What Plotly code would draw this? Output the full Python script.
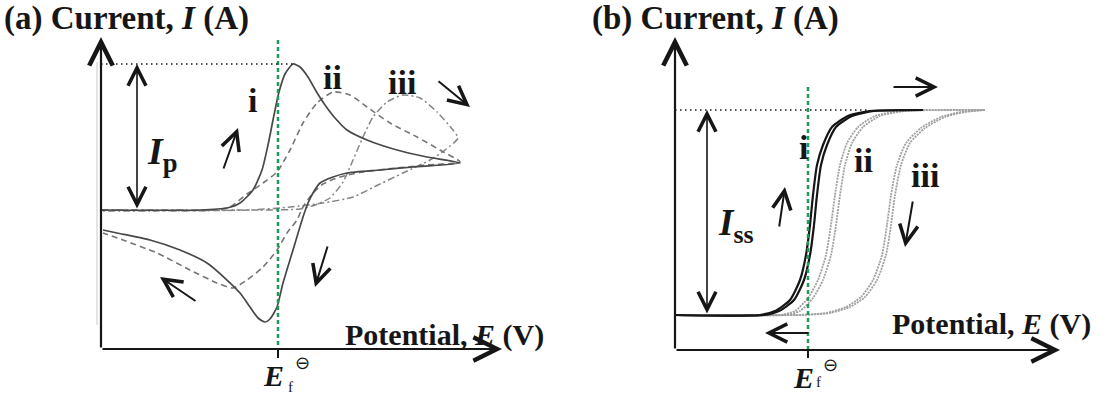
import plotly.graph_objects as go

# ---------------- Panel (a): cyclic voltammograms ----------------
# Potential E - E_f (mV), current I (uA); peak of the reversible wave = I_p
I_P = 14.6

cv_i_E = [-708, -312, -204, -152, -100, -64, -40, -16, 4, 28, 60, 88, 120, 152, 188, 228,
          276, 356, 476, 596, 728,
          540, 408, 276, 220, 168, 140, 120, 100, 60, 20, -4, -32, -52, -80, -112,
          -152, -204, -284, -392, -512, -644, -700]
cv_i_I = [0, 0, 0.2, 0.7, 2.0, 4.0, 6.5, 9.5, 11.8, 13.6, 14.6, 14.3, 13.3, 11.9, 10.5, 9.2,
          8.0, 7.0, 6.0, 5.3, 4.7,
          4.3, 4.0, 3.7, 3.3, 2.7, 1.7, 0.7, -0.7, -4.0, -7.3, -9.7, -10.9, -11.2, -10.8, -9.7,
          -8.3, -7.0, -5.3, -4.0, -3.0, -2.3, -2.0]

cv_ii_E = [-708, -252, -192, -124, -60, -4, 48, 100, 156, 220, 288, 356, 448, 556, 648, 728,
           596, 476, 340, 248, 180, 140, 100, 76, 36, -4, -60, -124, -180, -244, -352, -484,
           -620, -700]
cv_ii_I = [0, 0, 0.3, 1.6, 2.7, 3.8, 6.0, 8.7, 10.7, 11.8, 11.5, 10.3, 8.7, 7.3, 6.0, 4.8,
           4.5, 4.2, 3.8, 3.3, 2.6, 1.7, 0.3, -1.0, -2.3, -4.0, -5.7, -7.0, -7.8, -7.3, -6.0,
           -4.3, -3.0, -2.3]

cv_iii_E = [-708, -72, 88, 148, 208, 260, 300, 340, 380, 436, 500, 568, 636, 700, 720,
            668, 608, 500, 408, 300, 180, 48, -112, -708]
cv_iii_I = [0, 0, 0.1, 0.5, 1.2, 2.8, 5.0, 7.3, 9.3, 10.8, 11.5, 11.2, 9.8, 8.0, 7.2,
            6.0, 5.0, 3.7, 2.6, 1.3, 0.7, 0.3, 0, -0.1]

# ---------------- Panel (b): steady-state voltammograms ----------------
# Potential E - E_f (mV), current I (nA); plateau = I_ss
I_SS = 20.5

ss_i_fwd_E = [-532, -192, -132, -72, -32, -8, 8, 20, 36, 60, 96, 160, 248, 460]
ss_i_fwd_I = [0, 0, 0.4, 1.5, 3.5, 6.0, 9.0, 12.0, 15.0, 17.0, 18.8, 19.9, 20.4, 20.5]
ss_i_rev_E = [460, 264, 176, 112, 76, 52, 36, 24, 8, -16, -56, -116, -176, -532]
ss_i_rev_I = [20.5, 20.4, 19.9, 18.8, 17.0, 15.0, 12.0, 9.0, 6.0, 3.5, 1.5, 0.4, 0, 0]

ss_ii_fwd_E = [-252, -112, -52, 0, 40, 72, 92, 108, 128, 156, 200, 268, 368, 708]
ss_ii_fwd_I = [0, 0, 0.4, 1.7, 3.5, 6.0, 9.0, 12.0, 15.0, 17.2, 18.8, 19.9, 20.4, 20.5]
ss_ii_rev_E = [708, 388, 288, 220, 176, 148, 128, 112, 92, 60, 20, -32, -92, -252]
ss_ii_rev_I = [20.5, 20.4, 19.9, 18.8, 17.2, 15.0, 12.0, 9.0, 6.0, 3.5, 1.7, 0.4, 0, 0]

ss_iii_fwd_E = [-252, -32, 88, 168, 228, 276, 312, 332, 348, 372, 408, 468, 548, 628, 708]
ss_iii_fwd_I = [0, 0, 0.2, 0.8, 1.8, 3.5, 6.0, 9.0, 12.0, 15.0, 17.2, 18.7, 19.8, 20.3, 20.5]
ss_iii_rev_E = [708, 612, 532, 452, 392, 356, 332, 316, 296, 260, 212, 152, 72, -48, -252]
ss_iii_rev_I = [20.5, 20.3, 19.8, 18.7, 17.2, 15.0, 12.0, 9.0, 6.0, 3.5, 1.8, 0.8, 0.2, 0, 0]

# ---------------- styling ----------------
SERIF = "Liberation Serif"
INK = "#161616"
GREEN = "#1f9a55"

fig = go.Figure()


def curve(xs, ys, color, width, dash, axis):
    fig.add_trace(go.Scatter(
        x=xs, y=ys, mode="lines",
        line=dict(color=color, width=width, dash=dash, shape="spline", smoothing=0.6),
        xaxis="x" if axis == 1 else "x2", yaxis="y" if axis == 1 else "y2",
        hoverinfo="skip", showlegend=False))


# panel (a) curves
curve(cv_iii_E, cv_iii_I, "#858585", 1.5, "7px,3px,2px,3px", 1)
curve(cv_ii_E, cv_ii_I, "#757575", 1.6, "6px,4px", 1)
curve(cv_i_E, cv_i_I, "#484848", 1.7, "solid", 1)

# panel (b) curves
for xs, ys in [(ss_iii_fwd_E, ss_iii_fwd_I), (ss_iii_rev_E, ss_iii_rev_I),
               (ss_ii_fwd_E, ss_ii_fwd_I), (ss_ii_rev_E, ss_ii_rev_I)]:
    curve(xs, ys, "#a0a0a0", 1.8, "2px,1px", 2)
for xs, ys in [(ss_i_fwd_E, ss_i_fwd_I), (ss_i_rev_E, ss_i_rev_I)]:
    curve(xs, ys, "#151515", 2.2, "solid", 2)

shapes = []
annotations = []


def seg(x0, y0, x1, y1, axis, color, width, dash="solid"):
    xr, yr = ("x", "y") if axis == 1 else ("x2", "y2")
    shapes.append(dict(type="line", xref=xr, yref=yr, x0=x0, y0=y0, x1=x1, y1=y1,
                       line=dict(color=color, width=width, dash=dash), layer="above"))


def arrow(tail, head, axis, width=2.0, size=1.8, both=False, color=INK):
    xr, yr = ("x", "y") if axis == 1 else ("x2", "y2")
    a = dict(x=head[0], y=head[1], ax=tail[0], ay=tail[1], xref=xr, yref=yr,
             axref=xr, ayref=yr, text="", showarrow=True, arrowhead=5,
             arrowsize=size, arrowwidth=width, arrowcolor=color, standoff=0,
             startstandoff=0)
    if both:
        a.update(arrowside="end+start", startarrowhead=5, startarrowsize=size)
    annotations.append(a)


def label(x, y, text, axis, size=30, xanchor="center", yanchor="middle"):
    xr, yr = ("x", "y") if axis == 1 else ("x2", "y2")
    annotations.append(dict(x=x, y=y, xref=xr, yref=yr, text=text, showarrow=False,
                            xanchor=xanchor, yanchor=yanchor,
                            font=dict(family=SERIF, size=size, color=INK)))


TITLE_A = "<b>(a) Current, <i>I</i> (A)</b>"
TITLE_B = "<b>(b) Current, <i>I</i> (A)</b>"
X_TITLE = "<b>Potential, <i>E</i> (V)</b>"

# ---- panel (a) decorations ----
seg(-724, 14.8, -724, -11.5, 1, "#c8c8c8", 1)
seg(0, 17.0, 0, -13.9, 1, GREEN, 2.5, "4px,3px")
seg(-708, I_P, 60, I_P, 1, INK, 1.5, "1.5px,3.5px")
seg(0, -13.9, 0, -14.8, 1, INK, 2)
arrow((-708, -13.9), (-708, 17.3), 1, 2.2, 2.1)
arrow((-708, -13.9), (896, -13.9), 1, 2.2, 2.1)
arrow((-564, 0), (-564, I_P), 1, 1.6, 2.2, both=True)
arrow((-220, 4.0), (-160, 8.2), 1)
arrow((636, 13.0), (768, 10.3), 1)
arrow((200, -3.5), (148, -7.7), 1)
arrow((-324, -9.2), (-472, -6.7), 1)

label(-1104, 19.2, TITLE_A, 1, 33, "left")
label(260, -12.5, X_TITLE, 1, 30, "left")
label(-104, 11.0, "<b>i</b>", 1, 34)
label(216, 13.3, "<b>ii</b>", 1, 34)
label(496, 12.8, "<b>iii</b>", 1, 34)
label(-532, 5.6, "<b><i>I</i><sub>p</sub></b>", 1, 38, "left")
label(-20, -16.5, "<b><i>E</i></b>", 1, 30)
label(96, -15.3, "⊖", 1, 18)
label(48, -17.7, "f", 1, 15)

# ---- panel (b) decorations ----
seg(0, 22.8, 0, -3.5, 2, GREEN, 2.5, "4px,3px")
seg(-532, I_SS, 248, I_SS, 2, INK, 1.5, "1.5px,3.5px")
seg(0, -3.5, 0, -4.3, 2, INK, 2)
arrow((-532, -3.5), (-532, 27.8), 2, 2.2, 2.1)
arrow((-532, -3.5), (1008, -3.5), 2, 2.2, 2.1)
arrow((-404, 0), (-404, I_SS), 2, 1.6, 2.2, both=True)
arrow((336, 22.8), (520, 22.8), 2)
arrow((8, -1.8), (-172, -1.8), 2)
arrow((-116, 8.7), (-92, 12.8), 2)
arrow((420, 11.5), (388, 6.8), 2)

label(-872, 29.7, TITLE_B, 2, 33, "left")
label(328, -0.9, X_TITLE, 2, 30, "left")
label(-20, 16.8, "<b>i</b>", 2, 34)
label(220, 15.5, "<b>ii</b>", 2, 34)
label(468, 14.0, "<b>iii</b>", 2, 34)
label(-368, 9.0, "<b><i>I</i><sub>ss</sub></b>", 2, 37, "left")
label(-20, -6.2, "<b><i>E</i></b>", 2, 30)
label(88, -5.0, "⊖", 2, 18)
label(40, -6.7, "f", 2, 15)

hidden = dict(visible=False, showgrid=False, zeroline=False, fixedrange=True)
fig.update_layout(
    width=1109, height=398,
    margin=dict(l=0, r=0, t=0, b=0),
    paper_bgcolor="white", plot_bgcolor="white",
    xaxis=dict(domain=[0, 0.5], range=[-1112, 1106], **hidden),
    yaxis=dict(domain=[0, 1], range=[-18.8, 21.0], anchor="x", **hidden),
    xaxis2=dict(domain=[0.5, 1], range=[-1014, 1204], anchor="y2", **hidden),
    yaxis2=dict(domain=[0, 1], range=[-8.3, 31.5], anchor="x2", **hidden),
    shapes=shapes, annotations=annotations,
)

fig.write_html("out.html")
